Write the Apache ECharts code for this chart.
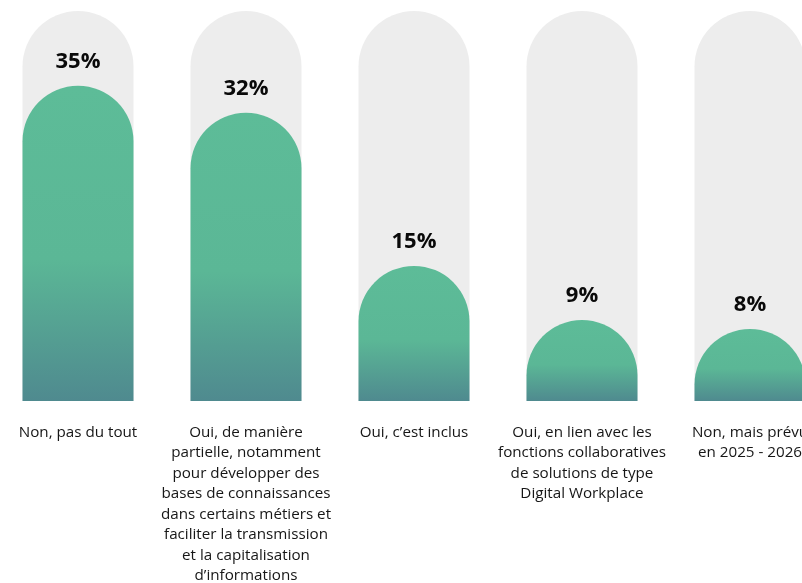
<!DOCTYPE html>
<html>
<head>
<meta charset="utf-8">
<script src="https://cdn.jsdelivr.net/npm/echarts@6/dist/echarts.min.js"></script>
<style>
  html, body { margin: 0; padding: 0; background: #ffffff; }
  #chart { width: 802px; height: 583px; }
</style>
</head>
<body>
<div id="chart"></div>
<script>
// Answer categories (line breaks set by hand) and their shares in percent
const categories = [
  'Non, pas du tout',
  'Oui, de manière\npartielle, notamment\npour développer des\nbases de connaissances\ndans certains métiers et\nfaciliter la transmission\net la capitalisation\nd’informations',
  'Oui, c’est inclus',
  'Oui, en lien avec les\nfonctions collaboratives\nde solutions de type\nDigital Workplace',
  'Non, mais prévu\nen 2025 - 2026'
];
const shares = [35, 32, 15, 9, 8];
const axisMax = 43.3;

const chart = echarts.init(document.getElementById('chart'), null, { renderer: 'canvas' });

const FONT = '"Open Sans", "Noto Sans", sans-serif';
const R = 55.5;

chart.setOption({
  animation: false,
  backgroundColor: '#ffffff',
  grid: {
    left: -6, width: 840, top: 11, bottom: 182,
    containLabel: false,
    outerBoundsMode: 'none'
  },
  xAxis: {
    type: 'category',
    data: categories,
    axisLine: { show: false },
    axisTick: { show: false },
    axisLabel: {
      interval: 0,
      margin: 21,
      color: '#161616',
      fontFamily: FONT,
      fontSize: 15.2,
      lineHeight: 20.5,
      align: 'center',
      verticalAlign: 'top'
    }
  },
  yAxis: {
    type: 'value',
    min: 0,
    max: axisMax,
    show: false,
    splitLine: { show: false }
  },
  series: [{
    type: 'bar',
    data: shares,
    barWidth: 111,
    showBackground: true,
    backgroundStyle: { color: '#ededed', borderRadius: [R, R, 0, 0] },
    itemStyle: {
      borderRadius: [R, R, 0, 0],
      color: new echarts.graphic.LinearGradient(0, 0, 0, 1, [
        { offset: 0, color: '#5dbc98' },
        { offset: 0.55, color: '#5bb796' },
        { offset: 1, color: '#4f8a8f' }
      ])
    },
    label: {
      show: true,
      position: 'top',
      distance: 13,
      formatter: '{c}%',
      color: '#0a0a0a',
      fontFamily: FONT,
      fontWeight: 'bold',
      fontSize: 22
    }
  }]
});
</script>
</body>
</html>
